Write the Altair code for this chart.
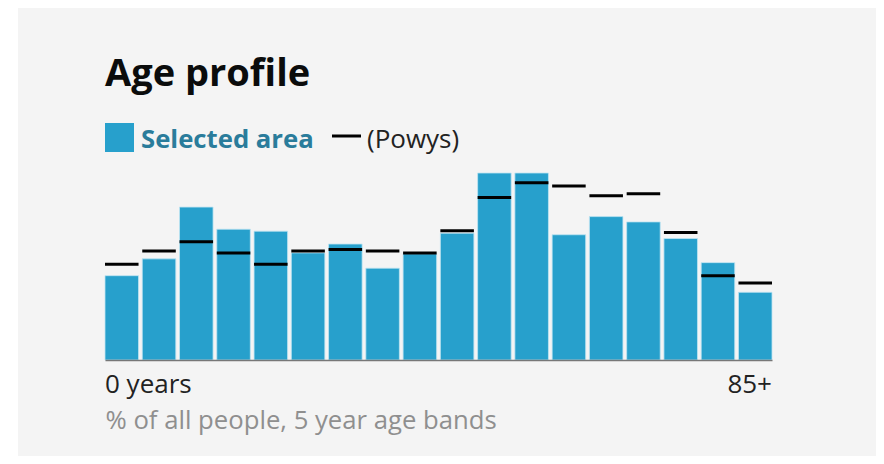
import altair as alt
import pandas as pd

# ---- data ----
categories = ["0-4", "5-9", "10-14", "15-19", "20-24", "25-29", "30-34", "35-39",
              "40-44", "45-49", "50-54", "55-59", "60-64", "65-69", "70-74",
              "75-79", "80-84", "85+"]
selected_area = [3.81, 4.57, 6.91, 5.91, 5.82, 4.84, 5.24, 4.15, 4.80, 5.73,
                 8.45, 8.45, 5.66, 6.48, 6.24, 5.49, 4.40, 3.06]
powys = [4.33, 4.92, 5.34, 4.83, 4.33, 4.92, 4.99, 4.92, 4.83, 5.84,
         7.34, 8.01, 7.86, 7.42, 7.51, 5.76, 3.81, 3.48]
first_label = "0 years"
last_label = "85+"
title_text = "Age profile"
legend_area = "Selected area"
legend_comp = "(Powys)"
axis_note = "% of all people, 5 year age bands"

FONT = "Open Sans"
BLUE = "#27a0cc"
W, H = 667, 187
PAD = {"left": 97, "top": 165, "right": 104, "bottom": 96}

df = pd.DataFrame({"band": categories, "area": selected_area, "powys": powys})
ymax = max(selected_area + powys)

xs = alt.Scale(domain=categories, paddingInner=0.1, paddingOuter=0)
ys = alt.Scale(domain=[0, ymax], nice=False, zero=True)
half_bw = (W / (len(categories) - 0.1)) * 0.9 / 2

one = pd.DataFrame({"k": [0]})

bg = alt.Chart(one).mark_rect(color="#f4f4f4").encode(
    x=alt.value(-87), x2=alt.value(W + PAD["right"]),
    y=alt.value(-166), y2=alt.value(H + PAD["bottom"]))

bars = alt.Chart(df).mark_bar(color=BLUE, stroke="#bfe4f2", strokeWidth=0.8).encode(
    x=alt.X("band:N", sort=categories, scale=xs,
            axis=alt.Axis(
                title=axis_note, titleFont=FONT, titleFontSize=25.7,
                titleFontWeight="normal", titleColor="#8f8f8f",
                titleX=0, titleY=68, titleAlign="left", titleAnchor="start",
                titleBaseline="alphabetic", titleAngle=0,
                labelExpr=f"datum.value == '{categories[0]}' ? '{first_label}' : "
                          f"datum.value == '{categories[-1]}' ? '{last_label}' : ''",
                labelAlign={"condition": {"test": f"datum.value == '{categories[0]}'", "value": "left"}, "value": "right"},
                labelOffset={"condition": {"test": f"datum.value == '{categories[0]}'", "value": -half_bw}, "value": half_bw},
                labelBaseline="alphabetic", labelPadding=32, labelAngle=0,
                labelFont=FONT, labelFontSize=26, labelColor="#222222",
                labelOverlap=False, labelBound=False, labelFlush=False,
                ticks=False, tickSize=0, grid=False, zindex=2,
                domainColor="#777777", domainWidth=1.6)),
    y=alt.Y("area:Q", scale=ys, axis=None),
)

ticks = alt.Chart(df).mark_tick(color="#000000", opacity=1, thickness=3, size=half_bw * 2).encode(
    x=alt.X("band:N", sort=categories, scale=xs),
    y=alt.Y("powys:Q", scale=ys),
)

title = alt.Chart(one).mark_text(
    text=title_text, font=FONT, fontSize=38, fontWeight="bold", color="#0b0c0c",
    align="left", baseline="alphabetic").encode(x=alt.value(0), y=alt.value(-87))

leg_sq = alt.Chart(one).mark_rect(color=BLUE).encode(
    x=alt.value(0), x2=alt.value(29), y=alt.value(-50), y2=alt.value(-21))
leg_t1 = alt.Chart(one).mark_text(
    text=legend_area, font=FONT, fontSize=25.7, fontWeight="bold", color="#2a7c9b",
    align="left", baseline="alphabetic").encode(x=alt.value(36), y=alt.value(-25))
leg_rule = alt.Chart(one).mark_rule(color="#000000", strokeWidth=3).encode(
    x=alt.value(227), x2=alt.value(256), y=alt.value(-37))
leg_t2 = alt.Chart(one).mark_text(
    text=legend_comp, font=FONT, fontSize=26, fontWeight="normal", color="#222222",
    align="left", baseline="alphabetic").encode(x=alt.value(262), y=alt.value(-25))

chart = alt.layer(bg, bars, ticks, title, leg_sq, leg_t1, leg_rule, leg_t2).properties(
    width=W, height=H, padding=PAD,
    autosize=alt.AutoSizeParams(type="none"),
    background="white",
).configure_view(stroke=None)

chart.save("out.html", embed_options={"renderer": "svg", "actions": False})
